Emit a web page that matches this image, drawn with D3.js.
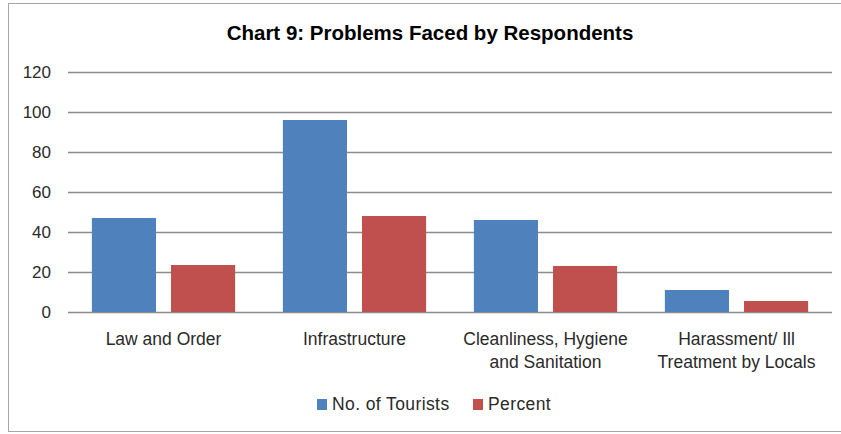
<!DOCTYPE html>
<html>
<head>
<meta charset="utf-8">
<script src="https://cdn.jsdelivr.net/npm/d3@7"></script>
<style>
  html, body { margin: 0; padding: 0; background: #fff; }
  svg { display: block; font-family: "Liberation Sans", Arial, sans-serif; }
</style>
</head>
<body>
<svg id="chart" width="841" height="434"></svg>
<script>
const title = "Chart 9: Problems Faced by Respondents";
const categories = ["Law and Order", "Infrastructure", "Cleanliness, Hygiene and Sanitation", "Harassment/ Ill Treatment by Locals"];
const categoryLines = [["Law and Order"], ["Infrastructure"], ["Cleanliness, Hygiene", "and Sanitation"], ["Harassment/ Ill", "Treatment by Locals"]];
const seriesNames = ["No. of Tourists", "Percent"];
const tourists = [47, 96, 46, 11];
const percent = [23.5, 48, 23, 5.5];
const yTicks = [0, 20, 40, 60, 80, 100, 120];
const colors = ["#4F81BD", "#C0504D"];

const svg = d3.select("#chart");
const plotLeft = 68, plotRight = 832, plotTop = 72, plotBottom = 312;

// outer border
svg.append("rect").attr("x", 8.5).attr("y", 3.5).attr("width", 850).attr("height", 428)
  .attr("fill", "none").attr("stroke", "#a6a6a6").attr("stroke-width", 1);

// title
svg.append("text").attr("x", 430).attr("y", 40).attr("text-anchor", "middle")
  .attr("font-size", 20.5).attr("font-weight", "bold").attr("fill", "#000").text(title);

const y = d3.scaleLinear().domain([0, 120]).range([plotBottom, plotTop]);
const x0 = d3.scaleBand().domain(categories).range([plotLeft, plotRight]).paddingInner(0.25).paddingOuter(0.125);
const x1 = d3.scaleBand().domain(seriesNames).range([0, x0.bandwidth()]).paddingInner(0.19);

// gridlines + y labels
const yAxis = d3.axisLeft(y).tickValues(yTicks).tickSize(-(plotRight - plotLeft)).tickPadding(17);
const gy = svg.append("g").attr("transform", `translate(${plotLeft},0)`).call(yAxis);
gy.select(".domain").remove();
gy.selectAll(".tick line").attr("stroke", "#8c8c8c").attr("stroke-width", 1.3);
gy.selectAll(".tick text").attr("font-size", 17).attr("fill", "#2a2a2a")
  .attr("font-family", "Liberation Sans, Arial, sans-serif");

// bars
const data = categories.map((c, i) => ({ cat: c, vals: [tourists[i], percent[i]] }));
const groups = svg.append("g").selectAll("g").data(data).join("g")
  .attr("transform", d => `translate(${x0(d.cat)},0)`);
groups.selectAll("rect").data(d => d.vals.map((v, j) => ({ name: seriesNames[j], v, j })))
  .join("rect")
  .attr("x", d => x1(d.name))
  .attr("width", x1.bandwidth())
  .attr("y", d => y(d.v))
  .attr("height", d => y(0) - y(d.v))
  .attr("fill", d => colors[d.j]);

// x axis labels
const xAxis = d3.axisBottom(x0).tickSize(0).tickFormat("");
const gx = svg.append("g").attr("transform", `translate(0,${plotBottom})`).call(xAxis);
gx.select(".domain").remove();
gx.selectAll(".tick").each(function(d, i) {
  const t = d3.select(this).append("text").attr("text-anchor", "middle")
    .attr("font-size", 17.5).attr("fill", "#2a2a2a")
    .attr("font-family", "Liberation Sans, Arial, sans-serif");
  categoryLines[i].forEach((line, k) => {
    t.append("tspan").attr("x", 0).attr("y", 33 + k * 23).text(line);
  });
});

// legend
const legend = svg.append("g");
const legX = [317, 473];
seriesNames.forEach((n, j) => {
  legend.append("rect").attr("x", legX[j]).attr("y", 399).attr("width", 10).attr("height", 11).attr("fill", colors[j]);
  legend.append("text").attr("x", legX[j] + 15).attr("y", 410).attr("font-size", 17.5)
    .attr("letter-spacing", 0.4).attr("fill", "#2a2a2a").text(n);
});
</script>
</body>
</html>
